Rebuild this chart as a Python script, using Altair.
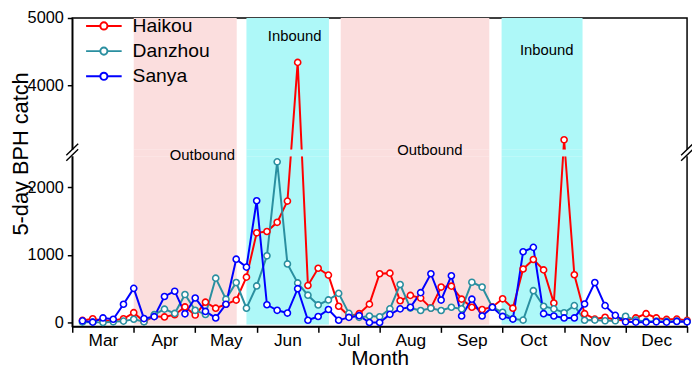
import altair as alt
import pandas as pd

FONT = "Liberation Sans"

months = ["Mar", "Apr", "May", "Jun", "Jul", "Aug", "Sep", "Oct", "Nov", "Dec"]
series = ["Haikou", "Danzhou", "Sanya"]
colors = ["#FF0000", "#2A8FA0", "#0000FF"]

# 5-day periods, index 1..60 (6 per month, Mar..Dec)
haikou = [30, 55, 25, 30, 55, 145, 15, 91, 82, 115,
          230, 110, 300, 211, 270, 331, 670, 1325, 1345, 1480,
          1794, 4344, 547, 801, 700, 240, 95, 130, 271, 720,
          729, 321, 400, 360, 215, 523, 537, 345, 225, 192,
          230, 350, 211, 790, 931, 777, 288, 3200, 705, 130,
          50, 77, 40, 30, 67, 130, 67, 45, 50, 30]
danzhou = [5, 5, 0, 10, 20, 48, 10, 115, 197, 134,
           413, 180, 118, 655, 345, 590, 211, 540, 985, 2374,
           865, 585, 403, 259, 333, 430, 135, 75, 96, 85,
           201, 561, 213, 177, 211, 177, 225, 201, 595, 523,
           225, 150, 55, 35, 470, 240, 201, 144, 249, 33,
           35, 25, 25, 91, 35, 15, 20, 15, 20, 15]
sanya = [24, 5, 67, 48, 269, 504, 58, 86, 384, 462,
         128, 362, 163, 67, 269, 935, 818, 1799, 262, 180,
         139, 499, 33, 88, 192, 33, 75, 100, 0, 0,
         120, 201, 225, 441, 720, 331, 691, 96, 345, 96,
         225, 90, 50, 1045, 1110, 130, 96, 67, 67, 273,
         590, 249, 105, 10, 5, 5, 10, 5, 15, 10]

# shaded migration periods (in 5-day index units)
band_start = [6.0, 17.0, 26.2, 41.9]
band_end = [16.05, 25.05, 40.7, 49.8]
band_kind = ["Outbound", "Inbound", "Outbound", "Inbound"]
band_colors = {"Outbound": "#FBDEDE", "Inbound": "#AEF8F8"}

# annotation texts (x in index units, y on the broken plot scale)
note_text = ["Outbound", "Inbound", "Outbound", "Inbound"]
note_x = [12.7, 21.7, 34.9, 46.3]
note_y = [2475, 4230, 2547, 4020]

BREAK_LOW, BREAK_HIGH = 2500, 3000
GAP = BREAK_HIGH - BREAK_LOW


def brk(v):
    return v if v <= BREAK_LOW else v - GAP


rows = []
for name, vals in zip(series, [haikou, danzhou, sanya]):
    for i, v in enumerate(vals):
        rows.append({"idx": i + 1, "series": name, "value": v, "y": brk(v)})
df = pd.DataFrame(rows)

bands = pd.DataFrame({"start": band_start, "end": band_end, "kind": band_kind})
bands["col"] = bands["kind"].map(band_colors)
notes = pd.DataFrame({"x": note_x, "y": note_y, "text": note_text})
dummy = pd.DataFrame({"a": [0]})

W, H = 622, 312
YMIN, YMAX = -58, 5000 - GAP
xscale = alt.Scale(domain=[0, 60], nice=False, zero=False)
yscale = alt.Scale(domain=[YMIN, YMAX], nice=False, zero=False)

month_arr = "[" + ",".join("'%s'" % m for m in months) + ",'']"
x_axis = alt.Axis(values=list(range(0, 61, 6)),
                  labelExpr=month_arr + "[round(datum.value/6)]",
                  labelOffset=31, labelOverlap=False, labelFlush=False, labelBound=False,
                  labelPadding=-1,
                  title="Month", titleFontSize=21, titleFontWeight="normal",
                  titleY=33, titleBaseline="middle",
                  labelFontSize=17.5, tickSize=6, grid=False)
y_axis = alt.Axis(values=[0, 1000, 2000, 3500, 4500],
                  labelExpr="format(datum.value > %d ? datum.value + %d : datum.value, 'd')" % (BREAK_LOW, GAP),
                  title="5-day BPH catch", titleFontSize=22, titleFontWeight="normal",
                  titleX=-52, titleY=137, titleAngle=270, titleAlign="center", titleBaseline="middle",
                  labelFontSize=16.5, tickSize=5, labelPadding=4, grid=False)

X = alt.X("idx:Q", scale=xscale, axis=x_axis)
Y = alt.Y("y:Q", scale=yscale, axis=y_axis)

legend_path = ("M-2,0L-0.4,0M0.4,0L2,0"
               "M-0.4,0A0.4,0.4,0,1,1,0.4,0A0.4,0.4,0,1,1,-0.4,0Z")
legend = alt.Legend(title=None, orient="none", legendX=22, legendY=-2,
                    symbolType=legend_path, symbolSize=324, symbolStrokeWidth=2,
                    symbolFillColor="white", labelFontSize=19.5, labelFont=FONT,
                    labelOffset=19, rowPadding=5.5, padding=0, labelColor="black")
stroke = alt.Stroke("series:N", scale=alt.Scale(domain=series, range=colors), legend=legend)

band_layer = alt.Chart(bands).mark_rect().encode(
    x=alt.X("start:Q", scale=xscale, axis=x_axis), x2="end:Q",
    y=alt.datum(-30, scale=yscale, axis=y_axis), y2=alt.datum(YMAX),
    fill=alt.Fill("col:N", scale=None))

lines = alt.Chart(df).mark_line(strokeWidth=2).encode(
    x=X, y=Y, stroke=stroke, detail="series:N")

points = alt.Chart(df).mark_point(shape="circle", filled=True, fill="white", fillOpacity=1,
                                  size=38, strokeWidth=1.6, opacity=1).encode(
    x=X, y=Y, stroke=stroke)

strip = alt.Chart(dummy).mark_rect(fill="white").encode(
    x=alt.value(-2), x2=alt.value(W + 2),
    y=alt.datum(2456), y2=alt.datum(2551))

strip_bands = alt.Chart(bands).mark_rect().encode(
    x=alt.X("start:Q"), x2="end:Q",
    y=alt.datum(2456), y2=alt.datum(2551),
    fill=alt.Fill("col:N", scale=None))

texts = alt.Chart(notes).mark_text(fontSize=15, font=FONT, color="black").encode(
    x=alt.X("x:Q"), y=alt.Y("y:Q"), text="text:N")

slash = []
for base in [0, W]:
    for dy in [0, 80]:
        slash.append(alt.Chart(dummy).mark_rule(color="black", strokeWidth=1.4).encode(
            x=alt.value(base - 6), x2=alt.value(base + 6),
            y=alt.datum(2390 + dy), y2=alt.datum(2560 + dy)))

chart = alt.layer(band_layer, lines, points, strip, strip_bands, texts, *slash).properties(
    width=W, height=H,
    autosize=alt.AutoSizeParams(type="none"),
    padding={"left": 65, "top": 8, "right": 5, "bottom": 43},
).configure(font=FONT).configure_view(
    stroke="black", strokeWidth=1.5
).configure_axis(
    domainColor="black", tickColor="black", labelColor="black", titleColor="black",
    domainWidth=1.5, tickWidth=1.5, labelFont=FONT, titleFont=FONT
)

chart.save("out.html", embed_options={"renderer": "svg", "actions": False})
